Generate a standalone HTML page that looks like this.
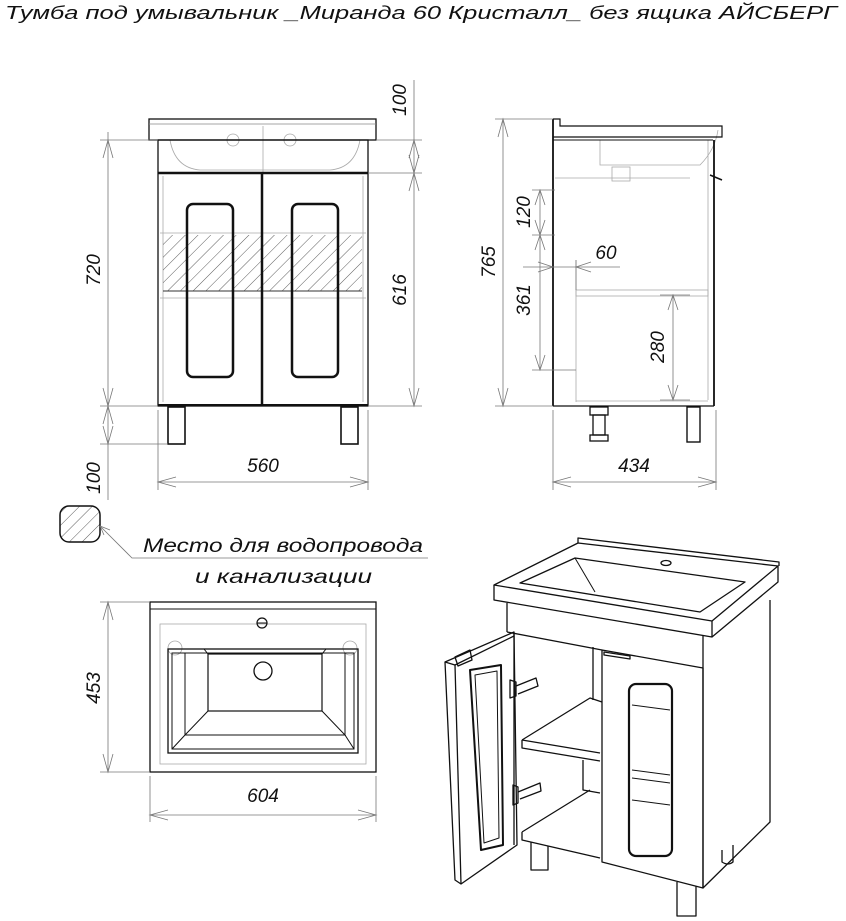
<!DOCTYPE html>
<html><head><meta charset="utf-8"><style>
html,body{margin:0;padding:0;background:#fff}
svg{display:block}
text{font-family:"Liberation Sans","DejaVu Sans",sans-serif;font-style:italic;fill:#111}
</style></head><body>
<svg width="846" height="921" viewBox="0 0 846 921" xmlns="http://www.w3.org/2000/svg">
<defs>
<pattern id="h" width="9" height="9" patternUnits="userSpaceOnUse" patternTransform="rotate(45)">
<line x1="0" y1="0" x2="0" y2="9" stroke="#333" stroke-width="0.8"/>
</pattern>
</defs>
<text x="5" y="19" font-size="18" textLength="832" lengthAdjust="spacingAndGlyphs">Тумба под умывальник _Миранда 60 Кристалл_ без ящика АЙСБЕРГ</text>

<!-- FRONT VIEW -->
<g fill="none" stroke="#aaa" stroke-width="0.8">
<path d="M170 140 Q175 168 200 170 L330 170 Q355 168 360 140"/>
<line x1="263" y1="126" x2="263" y2="172"/>
<circle cx="233" cy="140" r="6"/><circle cx="290" cy="140" r="6"/>
<line x1="163" y1="176" x2="163" y2="402"/><line x1="363" y1="176" x2="363" y2="402"/>
<line x1="160" y1="233" x2="366" y2="233"/><line x1="160" y1="298" x2="366" y2="298"/>
</g>
<rect x="163" y="235" width="199" height="56" fill="url(#h)"/>
<line x1="163" y1="291" x2="362" y2="291" stroke="#333" stroke-width="1"/>
<rect x="149" y="119" width="227" height="21" fill="none" stroke="#111" stroke-width="1.3"/>
<line x1="149" y1="124" x2="376" y2="124" stroke="#888" stroke-width="0.7"/>
<rect x="158" y="140" width="210" height="266" fill="none" stroke="#111" stroke-width="1.3"/>
<line x1="158" y1="173" x2="368" y2="173" stroke="#111" stroke-width="2.5"/>
<line x1="262" y1="173" x2="262" y2="406" stroke="#111" stroke-width="2.5"/>
<line x1="158" y1="405" x2="368" y2="405" stroke="#111" stroke-width="2"/>
<rect x="187" y="204" width="46" height="173" rx="6" fill="none" stroke="#111" stroke-width="2.5"/>
<rect x="292" y="204" width="46" height="173" rx="6" fill="none" stroke="#111" stroke-width="2.5"/>
<rect x="168" y="407" width="17" height="37" fill="none" stroke="#111" stroke-width="1.6"/>
<rect x="341" y="407" width="17" height="37" fill="none" stroke="#111" stroke-width="1.6"/>
<g stroke="#777" stroke-width="0.8" fill="none">
<line x1="100" y1="140" x2="158" y2="140"/><line x1="100" y1="406" x2="158" y2="406"/><line x1="100" y1="444" x2="168" y2="444"/>
<line x1="108" y1="132" x2="108" y2="500"/>
<line x1="376" y1="140" x2="422" y2="140"/><line x1="368" y1="173" x2="422" y2="173"/><line x1="368" y1="406" x2="422" y2="406"/>
<line x1="414" y1="80" x2="414" y2="406"/>
<line x1="158" y1="410" x2="158" y2="490"/><line x1="368" y1="410" x2="368" y2="490"/>
<line x1="158" y1="482" x2="368" y2="482"/>
<path d="M103 158 L108 140 L113 158 M103 388 L108 406 L113 388 M103 424 L108 406 L113 424 M103 426 L108 444 L113 426"/>
<path d="M409 158 L414 140 L419 158 M409 155 L414 173 L419 155 M409 191 L414 173 L419 191 M409 388 L414 406 L419 388"/>
<path d="M176 477 L158 482 L176 487 M350 477 L368 482 L350 487"/>
</g>
<text font-size="19" transform="translate(100 270) rotate(-90)" text-anchor="middle">720</text>
<text font-size="19" transform="translate(100 478) rotate(-90)" text-anchor="middle">100</text>
<text font-size="19" transform="translate(406 100) rotate(-90)" text-anchor="middle">100</text>
<text font-size="19" transform="translate(406 290) rotate(-90)" text-anchor="middle">616</text>
<text x="263" y="472" font-size="19" text-anchor="middle">560</text>

<!-- SIDE VIEW -->
<g fill="none" stroke="#aaa" stroke-width="0.8">
<path d="M600 140 L600 165 L700 165 Q715 150 718 130"/>
<rect x="612" y="167" width="18" height="14"/>
<line x1="555" y1="178" x2="690" y2="178"/>
<line x1="708" y1="140" x2="708" y2="400"/>
<rect x="576" y="290" width="132" height="6"/>
<line x1="576" y1="260" x2="576" y2="402"/>
<line x1="576" y1="401" x2="708" y2="401"/>
</g>
<path d="M553 119 L560 119 L560 126 L722 126 L722 137 L553 137" fill="none" stroke="#111" stroke-width="1.2"/>
<line x1="553" y1="140" x2="713" y2="140" stroke="#111" stroke-width="1"/>
<line x1="553" y1="119" x2="553" y2="406" stroke="#111" stroke-width="1.8"/>
<line x1="714" y1="140" x2="714" y2="406" stroke="#111" stroke-width="1.8"/>
<line x1="553" y1="406" x2="714" y2="406" stroke="#111" stroke-width="1.2"/>
<path d="M710 175 L722 180" stroke="#111" stroke-width="1.5"/>
<rect x="590" y="407" width="18" height="8" fill="none" stroke="#111" stroke-width="1.3"/>
<rect x="593" y="415" width="12" height="20" fill="none" stroke="#111" stroke-width="1.3"/>
<rect x="590" y="435" width="18" height="6" fill="none" stroke="#111" stroke-width="1.3"/>
<rect x="687" y="407" width="13" height="35" fill="none" stroke="#111" stroke-width="1.4"/>
<g stroke="#777" stroke-width="0.8" fill="none">
<line x1="495" y1="119" x2="553" y2="119"/><line x1="495" y1="406" x2="553" y2="406"/>
<line x1="503" y1="119" x2="503" y2="406"/>
<path d="M498 137 L503 119 L508 137 M498 388 L503 406 L508 388"/>
<line x1="532" y1="190" x2="555" y2="190"/><line x1="532" y1="235" x2="555" y2="235"/>
<line x1="540" y1="190" x2="540" y2="370"/>
<path d="M535 205 L540 190 L545 205 M535 220 L540 235 L545 220 M535 250 L540 235 L545 250 M535 355 L540 370 L545 355"/>
<line x1="532" y1="370" x2="576" y2="370"/>
<line x1="523" y1="267" x2="620" y2="267"/>
<line x1="576" y1="260" x2="576" y2="290"/>
<path d="M538 262 L553 267 L538 272 M591 262 L576 267 L591 272"/>
<line x1="660" y1="295" x2="690" y2="295"/><line x1="660" y1="400" x2="690" y2="400"/>
<line x1="673" y1="295" x2="673" y2="400"/>
<path d="M668 310 L673 295 L678 310 M668 385 L673 400 L678 385"/>
<line x1="553" y1="410" x2="553" y2="490"/><line x1="716" y1="410" x2="716" y2="490"/>
<line x1="553" y1="482" x2="716" y2="482"/>
<path d="M571 477 L553 482 L571 487 M698 477 L716 482 L698 487"/>
</g>
<text font-size="19" transform="translate(495 262) rotate(-90)" text-anchor="middle">765</text>
<text font-size="19" transform="translate(530 212) rotate(-90)" text-anchor="middle">120</text>
<text font-size="19" transform="translate(530 300) rotate(-90)" text-anchor="middle">361</text>
<text x="606" y="259" font-size="19" text-anchor="middle">60</text>
<text font-size="19" transform="translate(664 347) rotate(-90)" text-anchor="middle">280</text>
<text x="634" y="472" font-size="19" text-anchor="middle">434</text>

<!-- LEGEND -->
<rect x="60" y="506" width="40" height="36" rx="9" fill="url(#h)" stroke="#111" stroke-width="1.5"/>
<path d="M100 526 L132 558 L428 558" fill="none" stroke="#777" stroke-width="0.8"/>
<path d="M100 526 L110 530 M100 526 L104 535" stroke="#777" stroke-width="0.8"/>
<text x="143" y="552" font-size="19" textLength="280" lengthAdjust="spacingAndGlyphs">Место для водопровода</text>
<text x="195" y="583" font-size="19" textLength="177" lengthAdjust="spacingAndGlyphs">и канализации</text>

<!-- TOP VIEW -->
<g fill="none" stroke="#aaa" stroke-width="0.8">
<rect x="160" y="624" width="206" height="140"/>
<circle cx="175" cy="648" r="7"/><circle cx="350" cy="648" r="7"/>
</g>
<rect x="150" y="602" width="226" height="170" fill="none" stroke="#111" stroke-width="1.3"/>
<line x1="150" y1="609" x2="376" y2="609" stroke="#111" stroke-width="1"/>
<circle cx="262" cy="623" r="5" fill="none" stroke="#111" stroke-width="1.2"/>
<line x1="257" y1="623" x2="267" y2="623" stroke="#111" stroke-width="1"/>
<rect x="168" y="649" width="190" height="104" fill="none" stroke="#111" stroke-width="1.3"/>
<rect x="172" y="653" width="182" height="96" fill="none" stroke="#111" stroke-width="1"/>
<rect x="208" y="654" width="114" height="57" fill="none" stroke="#111" stroke-width="1.2"/>
<path d="M204 649 L208 654 M326 649 L322 654 M208 711 L185 735 L345 735 L322 711 M185 735 L172 749 M345 735 L354 749 M185 735 L185 653 M345 735 L345 653" fill="none" stroke="#111" stroke-width="1"/>
<circle cx="263" cy="671" r="9" fill="none" stroke="#111" stroke-width="1.3"/>
<g stroke="#777" stroke-width="0.8" fill="none">
<line x1="100" y1="602" x2="150" y2="602"/><line x1="100" y1="772" x2="150" y2="772"/>
<line x1="108" y1="602" x2="108" y2="772"/>
<path d="M103 620 L108 602 L113 620 M103 754 L108 772 L113 754"/>
<line x1="150" y1="776" x2="150" y2="822"/><line x1="376" y1="776" x2="376" y2="822"/>
<line x1="150" y1="815" x2="376" y2="815"/>
<path d="M168 810 L150 815 L168 820 M358 810 L376 815 L358 820"/>
</g>
<text font-size="19" transform="translate(100 688) rotate(-90)" text-anchor="middle">453</text>
<text x="263" y="802" font-size="19" text-anchor="middle">604</text>

<!-- ISOMETRIC -->
<g fill="none" stroke="#111" stroke-width="1.3" stroke-linejoin="round">
<path d="M494 585 L578 543 L778 566 L712 621 Z"/>
<path d="M494 585 L494 600 L712 637 L712 621"/>
<path d="M712 637 L778 582 L778 566"/>
<path d="M578 543 L578 538 L779 562 L779 566"/>
<path d="M520 583 L575 558 L745 582 L700 612 Z"/>
<path d="M575 558 L595 592" stroke-width="1"/>
<ellipse cx="666" cy="563" rx="5" ry="2.5"/>
<path d="M507 603 L507 632"/>
<path d="M703 636 L703 888 L770 822 L770 600"/>
<path d="M507 632 L602 650"/>
<path d="M514 633 L514 845"/>
<path d="M593 647 L593 700"/>
<path d="M522 740 L590 698 L602 702"/>
<path d="M522 740 L522 748 L600 761"/>
<path d="M522 740 L600 753"/>
<path d="M522 832 L590 790 M522 832 L522 840 L600 858"/>
<path d="M583 760 L583 790 L600 793"/>
<path d="M602 650 L703 668 L703 888 L602 862 Z"/>
<path d="M604 652 L630 656 L630 659 L604 655 Z"/>
<rect x="629" y="684" width="43" height="172" rx="7" stroke-width="2.2"/>
<path d="M632 705 L670 710 M632 770 L670 775 M632 778 L670 783 M632 800 L670 805" stroke-width="1"/>
<path d="M445 662 L514 632 L517 845 L461 884 L455 880 Z"/>
<path d="M445 662 L455 665 L461 884"/>
<path d="M455 665 L514 636"/>
<path d="M455 657 L470 650 L472 660 L458 666 Z"/>
<path d="M470 670 L501 665 L503 845 L481 850 Z" stroke-width="2"/>
<path d="M475 675 L497 671 L499 838 L484 843 Z" stroke-width="1"/>
<path d="M510 680 L510 698 L516 696 L516 682 Z M516 686 L536 678 L538 686 L518 694"/>
<path d="M513 785 L513 805 L518 803 L518 787 Z M518 792 L540 783 L541 791 L520 799"/>
<path d="M531 842 L531 870 L548 870 L548 846"/>
<path d="M677 882 L677 916 L696 916 L696 886"/>
<path d="M722 850 L722 862 Q728 866 733 862 L733 845"/>
</g>
</svg>
</body></html>
